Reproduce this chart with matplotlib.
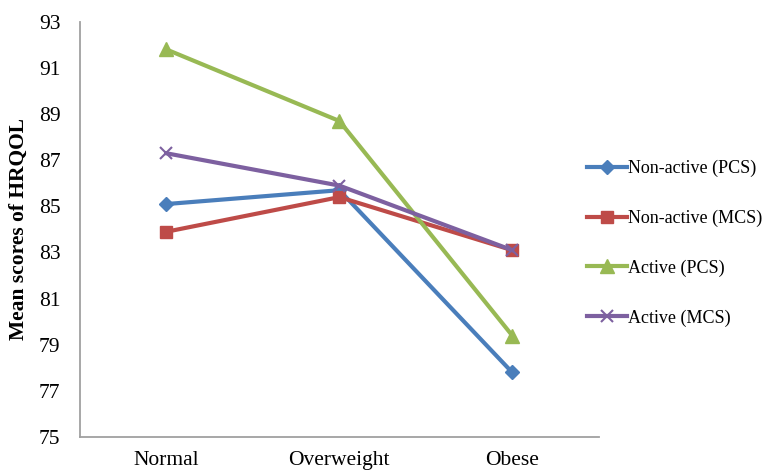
import matplotlib.pyplot as plt

plt.rcParams['font.family'] = ['Liberation Serif', 'DejaVu Serif']

categories = ['Normal', 'Overweight', 'Obese']
nonactive_pcs = [85.1, 85.7, 77.8]
nonactive_mcs = [83.9, 85.4, 83.1]
active_pcs = [91.8, 88.7, 79.4]
active_mcs = [87.3, 85.9, 83.1]
yticks = [75, 77, 79, 81, 83, 85, 87, 89, 91, 93]

fig = plt.figure(figsize=(7.65, 4.74), dpi=100)
ax = fig.add_axes([0.1046, 0.078, 0.678, 0.876])

x = [0.5, 1.5, 2.5]
ax.plot(x, nonactive_pcs, color='#4A7EBB', lw=3, marker='D', ms=7, label='Non-active (PCS)')
ax.plot(x, nonactive_mcs, color='#BE4B48', lw=3, marker='s', ms=9, label='Non-active (MCS)')
ax.plot(x, active_pcs, color='#98B954', lw=3, marker='^', ms=10, label='Active (PCS)')
ax.plot(x, active_mcs, color='#7D60A0', lw=3, marker='x', ms=9, mew=1.5, label='Active (MCS)')

ax.set_xlim(0, 3)
ax.set_ylim(75, 93)
ax.set_xticks(x)
ax.set_xticklabels(categories, fontsize=15.5)
ax.set_yticks(yticks)
ax.tick_params(axis='y', labelsize=15.5, length=0, pad=14)
ax.tick_params(axis='x', length=0, pad=10)
ax.set_ylabel('Mean scores of HRQOL', fontsize=15.5, fontweight='bold', labelpad=7)

for s in ['top', 'right']:
    ax.spines[s].set_visible(False)
for s in ['left', 'bottom']:
    ax.spines[s].set_color('#A0A0A0')
    ax.spines[s].set_linewidth(1.3)

fig.legend(loc='center left', bbox_to_anchor=(0.746, 0.487), frameon=False,
           fontsize=13, labelspacing=1.8, handlelength=2.2, handletextpad=0.05)

fig.savefig('out.png', dpi=100)
